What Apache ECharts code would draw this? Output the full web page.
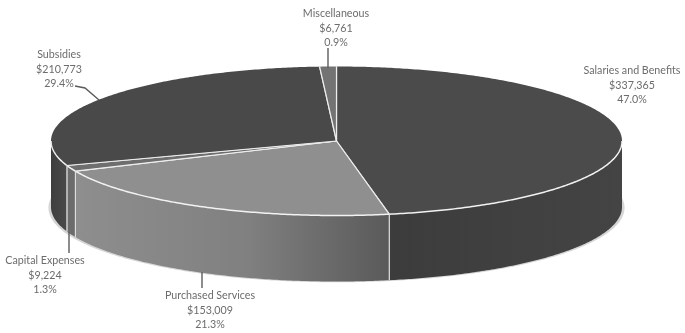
<!DOCTYPE html>
<html><head><meta charset="utf-8">
<style>html,body{margin:0;padding:0;background:#fff}#c{width:685px;height:333px}</style>
<script src="https://cdn.jsdelivr.net/npm/echarts@6/dist/echarts.min.js"></script>
</head><body><div id="c"></div>
<script>
const categories = ['Salaries and Benefits','Purchased Services','Capital Expenses','Subsidies','Miscellaneous'];
const values = [337365,153009,9224,210773,6761];

const topColors = ['#4b4b4b','#8f8f8f','#6e6e6e','#494949','#737373'];
const sideStops = [
  [[0,'#3c3c3c'],[1,'#444444']],
  [[0,'#8e8e8e'],[0.55,'#808080'],[1,'#5a5a5a']],
  [[0,'#6c6c6c'],[1,'#6c6c6c']],
  [[0,'#3e3e3e'],[1,'#4a4a4a']],
  [[0,'#666666'],[1,'#666666']]
];
const labelAt = [[632,71],[210,296],[45,261],[59,55],[336,14]];
const leaders = [null,[[202,272],[202,288]],[[69,232],[69,253]],[[75,86],[85,88],[99,100]],[[328,48],[328,68]]];

const CX=336.5, CY=141, RX=285.5, RY=74.5, DEPTH=66;
const total = values.reduce((a,b)=>a+b,0);
const cum=[0]; values.forEach((v,i)=>cum.push(cum[i]+v));
const toAngle = v => v/total*Math.PI*2;
const pt = (a,dy=0)=>[CX+RX*Math.sin(a), CY-RY*Math.cos(a)+dy];
function arc(a0,a1,dy=0){
  const n=Math.max(2,Math.ceil((a1-a0)/0.01)), out=[];
  for(let i=0;i<=n;i++) out.push(pt(a0+(a1-a0)*i/n,dy));
  return out;
}
const money = v => '$'+v.toLocaleString('en-US');

function renderSlice(params, api){
  const i=params.dataIndex, v0=api.value(1), v1=api.value(2);
  const a0=toAngle(v0), a1=toAngle(v1), children=[];
  const s0=Math.max(a0,Math.PI/2), s1=Math.min(a1,Math.PI*1.5);
  if(s1>s0){
    const t=arc(s0,s1), b=arc(s0,s1,DEPTH).reverse();
    children.push({type:'polygon',shape:{points:t.concat(b)},style:{
      fill:new echarts.graphic.LinearGradient(0,0,1,0,sideStops[i].map(s=>({offset:s[0],color:s[1]})),false),
      stroke:null}});
    [s0,s1].forEach(a=>{
      if(Math.abs(a-a0)<1e-6||Math.abs(a-a1)<1e-6){
        children.push({type:'polyline',shape:{points:[pt(a),pt(a,DEPTH)]},style:{stroke:'#e4e4e4',lineWidth:1,fill:null}});
      }
    });
  }
  children.push({type:'polygon',shape:{points:[[CX,CY]].concat(arc(a0,a1))},style:{fill:topColors[i],stroke:null}});
  [a0,a1].forEach(a=>children.push({type:'polyline',shape:{points:[[CX,CY],pt(a)]},style:{stroke:'#eeeeee',lineWidth:1.2,fill:null}}));
  if(s1>s0) children.push({type:'polyline',shape:{points:arc(s0,s1)},style:{stroke:'#f2f2f2',lineWidth:1.5,fill:null}});
  return {type:'group',children};
}
function renderShadow(){
  const pts=arc(0,Math.PI*2,DEPTH+0.8).map(p=>[CX+(p[0]-CX)*1.009,p[1]]);
  return {type:'polygon',shape:{points:pts},style:{fill:'#d6d6d6',stroke:null}};
}
function renderLabel(params, api){
  const i=params.dataIndex, children=[];
  const lines=[categories[i],money(values[i]),(values[i]/total*100).toFixed(1)+'%'];
  lines.forEach((t,k)=>children.push({type:'text',style:{text:t,x:labelAt[i][0],y:labelAt[i][1]+k*14.5,
    align:'center',verticalAlign:'middle',font:'10.7px Lato',fill:'#6c6c6c'}}));
  if(leaders[i]) children.push({type:'polyline',shape:{points:leaders[i]},style:{stroke:'#5c5c5c',lineWidth:1.4,fill:null}});
  return {type:'group',children};
}
const chart=echarts.init(document.getElementById('c'),null,{renderer:'canvas'});
chart.setOption({
  animation:false,
  backgroundColor:'#ffffff',
  series:[
    {type:'custom',coordinateSystem:'none',z:1,silent:true,data:[[0]],renderItem:renderShadow},
    {type:'custom',coordinateSystem:'none',z:2,silent:true,
      data:values.map((v,i)=>[v,cum[i],cum[i+1]]),renderItem:renderSlice,encode:{value:0}},
    {type:'custom',coordinateSystem:'none',z:3,silent:true,
      data:values.map((v,i)=>[v]),renderItem:renderLabel}
  ]
});
</script></body></html>
